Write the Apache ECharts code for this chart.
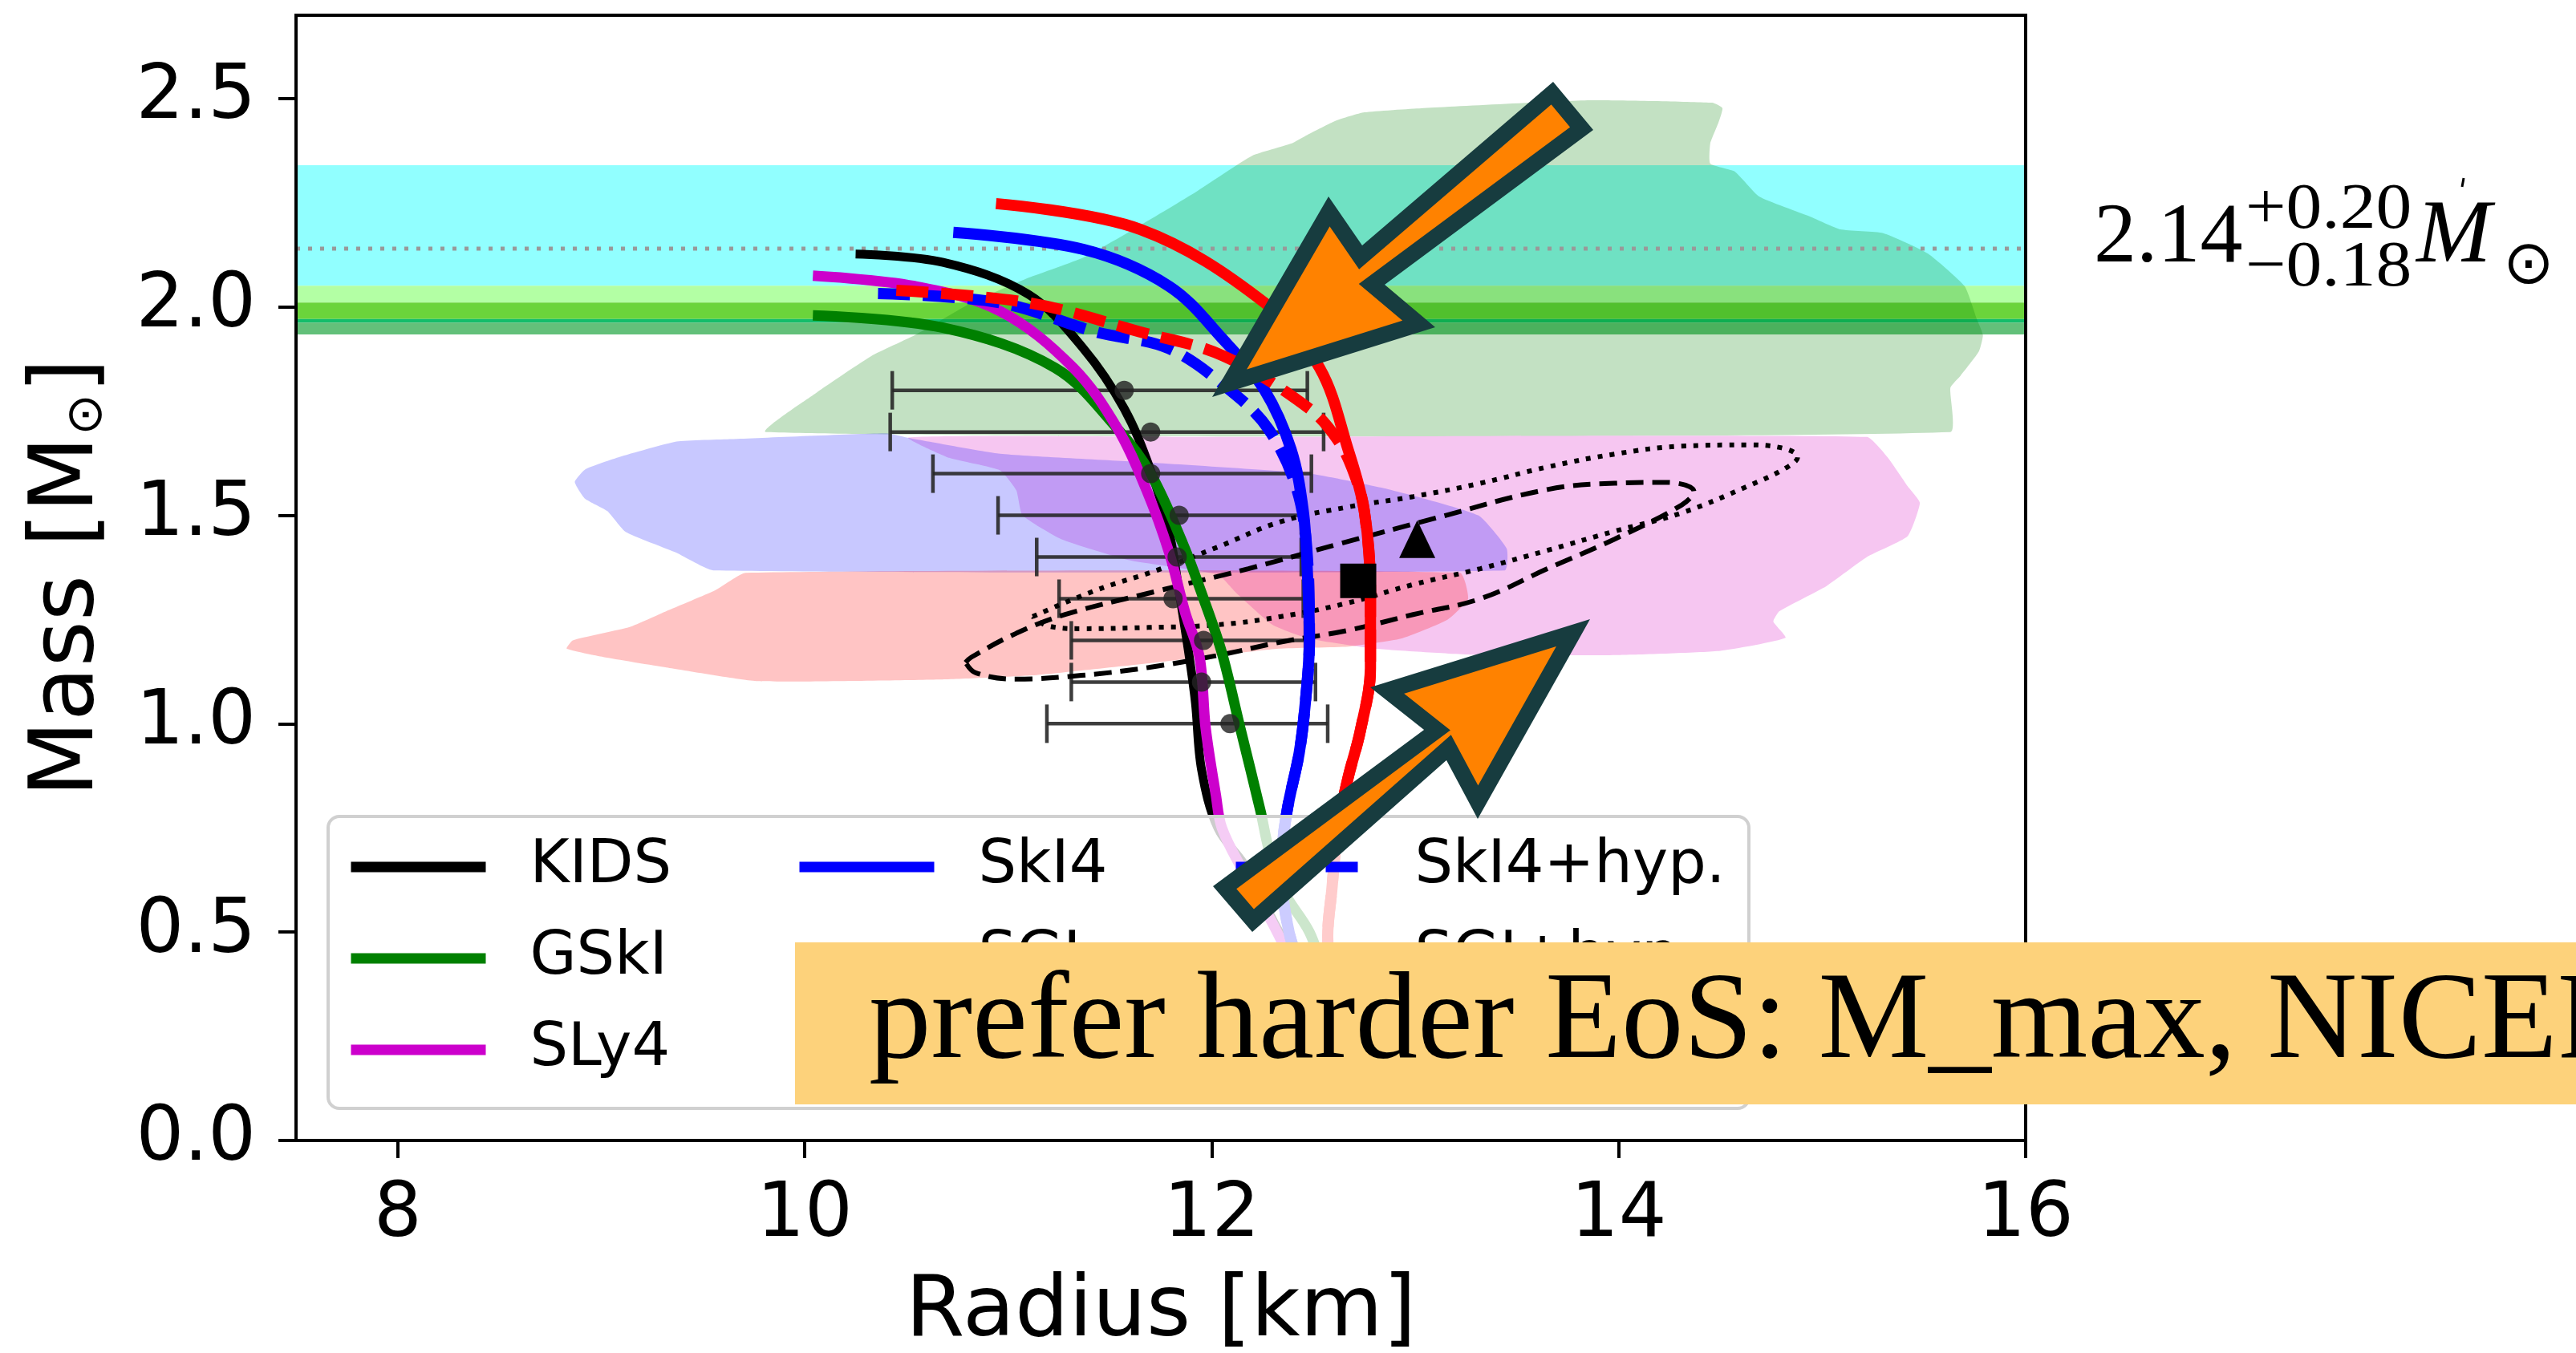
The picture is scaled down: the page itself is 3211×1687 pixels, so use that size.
<!DOCTYPE html>
<html><head><meta charset="utf-8">
<script src="https://cdn.jsdelivr.net/npm/echarts@6/dist/echarts.min.js"></script>
<style>html,body{margin:0;padding:0;background:#fff}#c{width:3211px;height:1687px}</style>
</head><body><div id="c"></div>
<script>
// ---------------- data ----------------
const xTicks = [8, 10, 12, 14, 16];
const yTicks = [0, 0.5, 1.0, 1.5, 2.0, 2.5];
const xRange = [7.5, 16];
const yRange = [0, 2.7];

// pulsar mass bands (upper edges of stacked strips, top to bottom)
const bandEdges = [2.34, 2.051, 2.0105, 1.971, 1.9625, 1.934];
const refMass = 2.14;

// EoS mass-radius curves [R km, M Msun]
const mrKIDS = [[10.25,2.127],[10.68,2.107],[11.10,2.03],[11.37,1.90],[11.57,1.756],[11.70,1.608],[11.79,1.461],[11.84,1.316],[11.89,1.16],[11.92,1.05],[11.95,0.89],[12.03,0.75],[12.17,0.655],[12.31,0.52],[12.45,0.40]];
const mrGSkI = [[10.04,1.98],[10.68,1.95],[11.23,1.854],[11.54,1.706],[11.70,1.60],[11.86,1.43],[11.96,1.30],[12.05,1.17],[12.14,0.99],[12.24,0.79],[12.28,0.70],[12.35,0.60],[12.48,0.50],[12.55,0.40]];
const mrSLy4 = [[10.04,2.075],[10.54,2.05],[10.96,1.99],[11.32,1.854],[11.54,1.706],[11.68,1.56],[11.79,1.412],[11.87,1.266],[11.94,1.16],[11.97,0.99],[12.02,0.83],[12.05,0.75],[12.15,0.65],[12.30,0.52],[12.42,0.40]];
const mrSkI4 = [[10.73,2.179],[11.37,2.138],[11.79,2.05],[12.06,1.92],[12.26,1.80],[12.39,1.658],[12.45,1.51],[12.47,1.364],[12.48,1.20],[12.46,1.05],[12.43,0.93],[12.37,0.79],[12.34,0.655],[12.38,0.50],[12.45,0.40]];
const mrSkI4hyp = [[10.36,2.032],[10.96,2.01],[11.43,1.94],[11.79,1.90],[12.09,1.80],[12.28,1.706],[12.42,1.56],[12.47,1.40],[12.48,1.20],[12.46,1.05],[12.43,0.93],[12.37,0.79],[12.34,0.655],[12.38,0.50],[12.45,0.40]];
const mrSGI = [[10.94,2.248],[11.65,2.186],[12.26,2.01],[12.53,1.854],[12.67,1.658],[12.75,1.51],[12.78,1.316],[12.78,1.133],[12.73,0.982],[12.67,0.87],[12.62,0.75],[12.59,0.60],[12.57,0.49],[12.58,0.40]];
const mrSGIhyp = [[10.45,2.04],[11.10,2.01],[11.65,1.94],[12.06,1.882],[12.48,1.756],[12.62,1.68],[12.70,1.60],[12.75,1.51],[12.78,1.316],[12.78,1.133],[12.73,0.982],[12.67,0.87],[12.62,0.75],[12.59,0.60],[12.57,0.49],[12.58,0.40]];

// radius measurements with horizontal error bars
const errM  = [1.80, 1.70, 1.60, 1.50, 1.40, 1.30, 1.20, 1.10, 1.00];
const errR  = [11.57, 11.70, 11.70, 11.84, 11.83, 11.81, 11.96, 11.95, 12.09];
const errLo = [10.43, 10.42, 10.63, 10.95, 11.14, 11.25, 11.31, 11.31, 11.19];
const errHi = [12.47, 12.55, 12.49, 12.44, 12.44, 12.45, 12.46, 12.51, 12.57];

const triangleMR = [13.01, 1.443];
const squareMR = [12.72, 1.343];

// credible contours
const contourDashed = [[10.79,1.147],[10.82,1.16],[11.04,1.217],[11.28,1.262],[11.73,1.318],[12.18,1.372],[12.63,1.432],[13.09,1.492],[13.65,1.562],[13.98,1.577],[14.24,1.579],[14.37,1.557],[14.31,1.525],[13.98,1.443],[13.65,1.372],[13.32,1.30],[12.99,1.262],[12.67,1.224],[12.34,1.196],[12.02,1.163],[11.69,1.135],[11.36,1.116],[11.04,1.107],[10.84,1.122],[10.79,1.147]];
const contourDotted = [[11.12,1.257],[11.43,1.32],[11.73,1.368],[12.03,1.424],[12.34,1.485],[12.67,1.52],[12.99,1.545],[13.32,1.577],[13.65,1.616],[13.98,1.647],[14.31,1.666],[14.63,1.669],[14.79,1.663],[14.88,1.64],[14.83,1.616],[14.63,1.569],[14.31,1.506],[13.98,1.462],[13.65,1.416],[13.32,1.372],[12.99,1.334],[12.67,1.29],[12.34,1.257],[12.02,1.237],[11.69,1.231],[11.36,1.228],[11.20,1.234],[11.12,1.257]];

// shaded regions (outlines)
const regionGreen = [[9.81,1.70],[10.06,1.795],[10.33,1.883],[10.54,1.932],[10.82,2.01],[11.10,2.07],[11.37,2.119],[11.65,2.196],[11.92,2.275],[12.20,2.363],[12.39,2.392],[12.47,2.413],[12.61,2.447],[12.75,2.467],[13.03,2.477],[13.86,2.496],[14.46,2.49],[14.51,2.477],[14.49,2.442],[14.45,2.392],[14.45,2.344],[14.57,2.325],[14.69,2.265],[14.94,2.217],[15.09,2.186],[15.30,2.177],[15.52,2.128],[15.70,2.05],[15.76,1.971],[15.79,1.932],[15.77,1.893],[15.68,1.835],[15.63,1.806],[15.63,1.70]];
const regionPink = [[10.51,1.687],[12.0,1.688],[15.22,1.688],[15.32,1.64],[15.42,1.57],[15.48,1.53],[15.42,1.45],[15.22,1.40],[15.02,1.33],[14.79,1.27],[14.76,1.245],[14.82,1.206],[14.5,1.175],[14.0,1.165],[13.3,1.165],[12.8,1.18],[12.48,1.204],[12.30,1.237],[12.12,1.314],[12.03,1.358],[11.59,1.393],[11.26,1.443],[11.07,1.50],[11.04,1.56],[10.96,1.608],[10.71,1.638]];
const regionBlue = [[8.87,1.58],[8.92,1.61],[9.09,1.64],[9.37,1.677],[9.64,1.683],[10.4,1.697],[10.51,1.686],[10.96,1.648],[11.65,1.628],[12.48,1.60],[12.89,1.56],[13.31,1.50],[13.45,1.42],[13.44,1.368],[9.55,1.368],[9.37,1.41],[9.12,1.46],[9.03,1.51],[8.92,1.54]];
const regionRed = [[9.71,1.362],[13.22,1.362],[13.26,1.30],[13.16,1.25],[12.93,1.204],[12.67,1.185],[12.33,1.18],[11.73,1.147],[11.12,1.116],[10.67,1.106],[9.77,1.102],[9.32,1.135],[9.01,1.16],[8.83,1.18],[8.86,1.20],[9.14,1.232],[9.32,1.27],[9.56,1.32]];

// legend columns
const legendCols = [['KIDS','GSkI','SLy4'], ['SkI4','SGI'], ['SkI4+hyp.','SGI+hyp.']];

// ---------------- styles ----------------
const bandColors = ['#91ffff', '#b3ffa4', '#6bd43b', '#13bd6b', '#63c07a'];
const FONT = 'DejaVu Sans';

const chart = echarts.init(document.getElementById('c'), null, {renderer: 'canvas'});

function polySeries(name, pts, fill, z) {
  return {
    type: 'custom', name: name, z: z, silent: true,
    data: pts,
    encode: {x: 0, y: 1},
    renderItem: function (params, api) {
      if (params.dataIndex !== 0) return null;
      const p = pts.map(function (d) { return api.coord(d); });
      return {type: 'polygon', shape: {points: p, smooth: 0.15}, style: {fill: fill}};
    }
  };
}

const bandData = [];
for (let i = 0; i < bandEdges.length - 1; i++) bandData.push([bandEdges[i + 1], bandEdges[i], i]);

function curve(name, data, color, width, dashed) {
  return {
    type: 'line', name: name, data: data, showSymbol: false, symbol: 'none',
    smooth: 0.35, z: 2, silent: true,
    lineStyle: {color: color, width: width, type: dashed ? [40, 16] : 'solid', cap: 'butt'},
    itemStyle: {color: color}
  };
}

function insetPoly(pts, d) {
  let a = 0; const n = pts.length;
  for (let i = 0; i < n; i++) { const p = pts[i], q = pts[(i + 1) % n]; a += p[0] * q[1] - q[0] * p[1]; }
  const s = a > 0 ? 1 : -1;
  const lines = [];
  for (let i = 0; i < n; i++) {
    const p = pts[i], q = pts[(i + 1) % n];
    const dx = q[0] - p[0], dy = q[1] - p[1], L = Math.hypot(dx, dy);
    const nx = s * -dy / L, ny = s * dx / L;
    lines.push({p: [p[0] + nx * d, p[1] + ny * d], v: [dx, dy]});
  }
  const out = [];
  for (let i = 0; i < n; i++) {
    const A = lines[(i - 1 + n) % n], B = lines[i];
    const den = A.v[0] * B.v[1] - A.v[1] * B.v[0];
    if (Math.abs(den) < 1e-9) { out.push(B.p); continue; }
    const t = ((B.p[0] - A.p[0]) * B.v[1] - (B.p[1] - A.p[1]) * B.v[0]) / den;
    out.push([A.p[0] + A.v[0] * t, A.p[1] + A.v[1] * t]);
  }
  return out;
}

const arrow1 = [[1511,495],[1656,245],[1698,306],[1936,102],[1986,162],[1726,355],[1789,408]];
const arrow2 = [[1982,772],[1842,1021],[1803,948],[1561,1162],[1512,1105],[1775,910],[1708,857]];
const arrowStyle = {fill: '#ff8200', stroke: '#173c3f', lineWidth: 20, lineJoin: 'miter', miterLimit: 10};

function legendComp(names, left) {
  return {
    data: names, orient: 'vertical', left: left, top: 1031, padding: 0,
    itemWidth: 168, itemHeight: 13, itemGap: 14, selectedMode: false, z: 4,
    itemStyle: {opacity: 0, borderWidth: 0},
    lineStyle: {width: 13, cap: 'butt'},
    textStyle: {fontFamily: FONT, fontSize: 75, color: '#000', lineHeight: 100, padding: [0, 0, 0, 50]},
    backgroundColor: 'transparent'
  };
}

const option = {
  animation: false,
  backgroundColor: '#fff',
  grid: {left: 369, right: 686, top: 19, bottom: 265, show: true, borderColor: '#000', borderWidth: 4, z: 6,
    backgroundColor: 'transparent', outerBoundsMode: 'none', containLabel: false},
  xAxis: {
    type: 'value', min: xRange[0], max: xRange[1], z: 6,
    name: 'Radius [km]', nameLocation: 'middle', nameGap: 162,
    nameTextStyle: {fontFamily: FONT, fontSize: 106, color: '#000'},
    axisLine: {show: true, lineStyle: {color: '#000', width: 4}},
    axisTick: {show: true, length: 22, lineStyle: {color: '#000', width: 4}, customValues: xTicks},
    axisLabel: {fontFamily: FONT, fontSize: 94, color: '#000', margin: 48, customValues: xTicks},
    splitLine: {show: false}
  },
  yAxis: {
    type: 'value', min: yRange[0], max: yRange[1], z: 6,
    name: 'Mass [M{s|⊙}]', nameLocation: 'middle', nameGap: 228, nameRotate: 90,
    nameTextStyle: {fontFamily: FONT, fontSize: 110, color: '#000',
      rich: {s: {fontFamily: FONT, fontSize: 62, lineHeight: 48, color: '#000', verticalAlign: 'bottom', padding: [0, 1, 0, 1]}}},
    axisLine: {show: true, lineStyle: {color: '#000', width: 4}},
    axisTick: {show: true, length: 22, lineStyle: {color: '#000', width: 4}, customValues: yTicks},
    axisLabel: {fontFamily: FONT, fontSize: 94, color: '#000', margin: 50, customValues: yTicks,
      formatter: function (v) { return v.toFixed(1); }},
    splitLine: {show: false}
  },
  legend: legendCols.map(function (c, i) { return legendComp(c, [431, 990, 1534][i]); }),
  series: [
    {
      type: 'custom', name: 'bands', z: 1, silent: true, data: bandData,
      encode: {x: -1, y: [0, 1]},
      renderItem: function (params, api) {
        const lo = api.value(0), hi = api.value(1), ci = api.value(2);
        const a = api.coord([xRange[0], hi]), b = api.coord([xRange[1], lo]);
        return {type: 'rect', shape: {x: a[0], y: a[1], width: b[0] - a[0], height: b[1] - a[1]}, style: {fill: bandColors[ci]}};
      }
    },
    {
      type: 'line', name: 'ref', z: 1, silent: true, symbol: 'none',
      data: [[xRange[0], refMass], [xRange[1], refMass]],
      lineStyle: {color: '#999999', width: 5, type: [5, 10]}
    },
    polySeries('green region', regionGreen, 'rgba(0,128,0,0.235)', 1),
    polySeries('pink region', regionPink, '#f6c6f1', 1),
    polySeries('blue region', regionBlue, 'rgba(0,0,255,0.215)', 1),
    polySeries('red region', regionRed, 'rgba(255,0,0,0.23)', 1),
    {
      type: 'line', name: 'dotted contour', data: contourDotted, symbol: 'none', smooth: 0.4, z: 1, silent: true,
      lineStyle: {color: '#000', width: 6, type: [6, 9]}
    },
    {
      type: 'line', name: 'dashed contour', data: contourDashed, symbol: 'none', smooth: 0.4, z: 1, silent: true,
      lineStyle: {color: '#000', width: 6, type: [22, 11]}
    },
    {
      type: 'custom', name: 'errbars', z: 1, silent: true,
      data: errM.map(function (m, i) { return [errR[i], m, errLo[i], errHi[i]]; }),
      encode: {x: [0, 2, 3], y: 1},
      renderItem: function (params, api) {
        const m = api.value(1), lo = api.value(2), hi = api.value(3);
        const a = api.coord([lo, m]), b = api.coord([hi, m]);
        const st = {stroke: 'rgba(40,40,40,0.9)', lineWidth: 4.5};
        return {type: 'group', children: [
          {type: 'line', shape: {x1: a[0], y1: a[1], x2: b[0], y2: b[1]}, style: st},
          {type: 'line', shape: {x1: a[0], y1: a[1] - 24, x2: a[0], y2: a[1] + 24}, style: st},
          {type: 'line', shape: {x1: b[0], y1: b[1] - 24, x2: b[0], y2: b[1] + 24}, style: st}
        ]};
      }
    },
    curve('KIDS', mrKIDS, '#000000', 11, false),
    curve('GSkI', mrGSkI, '#008000', 13, false),
    curve('SLy4', mrSLy4, '#cc00cc', 13, false),
    curve('SkI4', mrSkI4, '#0000ff', 14, false),
    curve('SGI', mrSGI, '#ff0000', 14, false),
    curve('SkI4+hyp.', mrSkI4hyp, '#0000ff', 14, true),
    curve('SGI+hyp.', mrSGIhyp, '#ff0000', 14, true),
    {
      type: 'scatter', name: 'errdots', z: 3, silent: true, symbol: 'circle', symbolSize: 24,
      data: errM.map(function (m, i) { return [errR[i], m]; }),
      itemStyle: {color: 'rgba(35,35,35,0.82)', opacity: 1}
    },
    {
      type: 'scatter', name: 'triangle', z: 3, silent: true, symbol: 'triangle', symbolSize: [45, 47],
      data: [triangleMR], itemStyle: {color: '#000', opacity: 1}
    },
    {
      type: 'scatter', name: 'square', z: 3, silent: true, symbol: 'rect', symbolSize: [45, 43],
      data: [squareMR], itemStyle: {color: '#000', opacity: 1}
    }
  ],
  graphic: [
    {type: 'rect', z: 3, silent: true, shape: {x: 409, y: 1018, width: 1771, height: 364, r: 14},
      style: {fill: 'rgba(255,255,255,0.8)', stroke: '#d0d0d0', lineWidth: 4}},
    // annotation of the mass band
    {type: 'text', z: 20, silent: true, x: 2610, y: 298, style: {text: '2.14', font: '106px "Liberation Serif"', fill: '#000', verticalAlign: 'middle', align: 'left'}},
    {type: 'text', z: 20, silent: true, x: 2799, y: 263, scaleX: 1.12, style: {text: '+0.20', font: '80px "Liberation Serif"', fill: '#000', verticalAlign: 'middle', align: 'left'}},
    {type: 'text', z: 20, silent: true, x: 2799, y: 335, scaleX: 1.12, style: {text: '\u22120.18', font: '80px "Liberation Serif"', fill: '#000', verticalAlign: 'middle', align: 'left'}},
    {type: 'text', z: 20, silent: true, x: 3012, y: 297, style: {text: 'M', font: 'italic 112px "Liberation Serif"', fill: '#000', verticalAlign: 'middle', align: 'left'}},
    {type: 'text', z: 20, silent: true, x: 3120, y: 333, style: {text: '\u2299', font: '76px "DejaVu Sans"', fill: '#000', verticalAlign: 'middle', align: 'left'}},
    {type: 'line', z: 20, silent: true, shape: {x1: 3071, y1: 222, x2: 3069, y2: 233}, style: {stroke: '#000', lineWidth: 3}},
    // orange note box
    {type: 'rect', z: 20, silent: true, shape: {x: 991, y: 1175, width: 2300, height: 202}, style: {fill: '#fdd27b'}},
    {type: 'text', z: 21, silent: true, x: 1083, y: 1277, style: {text: 'prefer harder EoS: M_max, NICER', font: '155px "Liberation Serif"', fill: '#000', verticalAlign: 'middle', align: 'left'}},
    // arrows
    {type: 'polygon', z: 22, silent: true, shape: {points: insetPoly(arrow1, 10)}, style: arrowStyle},
    {type: 'polygon', z: 22, silent: true, shape: {points: insetPoly(arrow2, 10)}, style: arrowStyle}
  ]
};
chart.setOption(option);
</script></body></html>
